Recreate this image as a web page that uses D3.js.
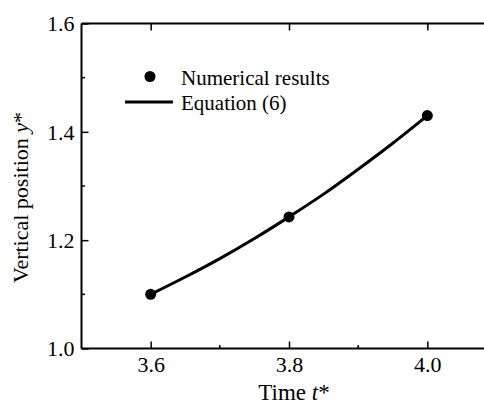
<!DOCTYPE html>
<html>
<head>
<meta charset="utf-8">
<script src="https://cdn.jsdelivr.net/npm/d3@7"></script>
<style>
  body { margin: 0; background: #fff; }
</style>
</head>
<body>
<div id="chart"></div>
<script>
// numerical results
var pointT = [3.6, 3.8, 4.0]
var pointY = [1.100, 1.243, 1.430]

// equation (6)
var curveT = [3.60, 3.65, 3.70, 3.75, 3.80, 3.85, 3.90, 3.95, 4.00]
var curveY = [1.100, 1.132, 1.166, 1.203, 1.243, 1.285, 1.331, 1.379, 1.430]

var xTicks = [3.6, 3.8, 4.0]
var xMinor = [3.7, 3.9]
var yTicks = [1.0, 1.2, 1.4, 1.6]
var yMinor = [1.1, 1.3, 1.5]

var legendLabels = ['Numerical results', 'Equation (6)']

;(function () {
  var W = 484
  var H = 404
  var LEFT = 81.5
  var TOP = 23.5
  var BOTTOM = 348.5
  var RIGHT = 496.5 // x = 4.1, just past the picture edge
  var FONT = 'Liberation Serif'

  var svg = d3.select('#chart').append('svg')
    .attr('width', W)
    .attr('height', H)

  var x = d3.scaleLinear().domain([3.5, 4.1]).range([LEFT, RIGHT])
  var y = d3.scaleLinear().domain([1.0, 1.6]).range([BOTTOM, TOP])

  //
  // axes: ticks point inward
  //
  var bottom = svg.append('g')
    .attr('transform', 'translate(0,' + BOTTOM + ')')
    .call(d3.axisBottom(x).tickValues(xTicks).tickSize(-7).tickPadding(8)
      .tickFormat(d3.format('.1f')))
  bottom.append('g').selectAll('line').data(xMinor).enter().append('line')
    .attr('x1', x).attr('x2', x).attr('y1', 0).attr('y2', -3.5)
    .attr('stroke', '#000').attr('stroke-width', 1.5)

  var topAxis = svg.append('g')
    .attr('transform', 'translate(0,' + TOP + ')')
    .call(d3.axisTop(x).tickValues(xTicks).tickSize(-7).tickFormat(''))

  var left = svg.append('g')
    .attr('transform', 'translate(' + LEFT + ',0)')
    .call(d3.axisLeft(y).tickValues(yTicks).tickSize(-7).tickPadding(7)
      .tickFormat(d3.format('.1f')))
  left.append('g').selectAll('line').data(yMinor).enter().append('line')
    .attr('y1', y).attr('y2', y).attr('x1', 0).attr('x2', 3.5)
    .attr('stroke', '#000').attr('stroke-width', 1.5)

  svg.selectAll('.domain')
    .attr('stroke', '#000')
    .attr('stroke-width', 2)
  svg.selectAll('.tick line')
    .attr('stroke', '#000')
    .attr('stroke-width', 1.5)
  svg.selectAll('.tick text')
    .attr('font-family', FONT)
    .attr('font-size', 22)
  left.selectAll('.tick text').attr('dy', '0.34em')
  // no outer end caps on the frame lines
  topAxis.select('.domain').attr('d', 'M' + LEFT + ',0H' + RIGHT)
  bottom.select('.domain').attr('d', 'M' + LEFT + ',0H' + RIGHT)
  left.select('.domain').attr('d', 'M0,' + TOP + 'V' + BOTTOM)

  //
  // curve and points
  //
  var line = d3.line()
    .x(function (d, i) { return x(curveT[i]) })
    .y(function (d) { return y(d) })
    .curve(d3.curveCatmullRom)

  svg.append('path')
    .datum(curveY)
    .attr('d', line)
    .attr('fill', 'none')
    .attr('stroke', '#000')
    .attr('stroke-width', 3)

  svg.append('g').selectAll('circle').data(pointY).enter().append('circle')
    .attr('cx', function (d, i) { return x(pointT[i]) })
    .attr('cy', function (d) { return y(d) })
    .attr('r', 5.5)
    .attr('fill', '#000')

  //
  // legend
  //
  var legend = svg.append('g')
  legend.append('circle').attr('cx', 150).attr('cy', 76.5).attr('r', 5.5).attr('fill', '#000')
  legend.append('line')
    .attr('x1', 125).attr('x2', 173).attr('y1', 102).attr('y2', 102)
    .attr('stroke', '#000').attr('stroke-width', 3)
  legend.selectAll('text').data(legendLabels).enter().append('text')
    .attr('x', 181)
    .attr('y', function (d, i) { return 84.5 + i * 25 })
    .attr('font-family', FONT)
    .attr('font-size', 21)
    .text(function (d) { return d })

  //
  // axis titles
  //
  var xt = svg.append('text')
    .attr('x', 294).attr('y', 400)
    .attr('text-anchor', 'middle')
    .attr('font-family', FONT)
    .attr('font-size', 23)
  xt.append('tspan').text('Time ')
  xt.append('tspan').attr('font-style', 'italic').text('t')
  xt.append('tspan').text('*')

  var yt = svg.append('text')
    .attr('transform', 'translate(28,197.5) rotate(-90)')
    .attr('text-anchor', 'middle')
    .attr('font-family', FONT)
    .attr('font-size', 22)
  yt.append('tspan').text('Vertical position ')
  yt.append('tspan').attr('font-style', 'italic').text('y')
  yt.append('tspan').text('*')
})()
</script>
</body>
</html>
